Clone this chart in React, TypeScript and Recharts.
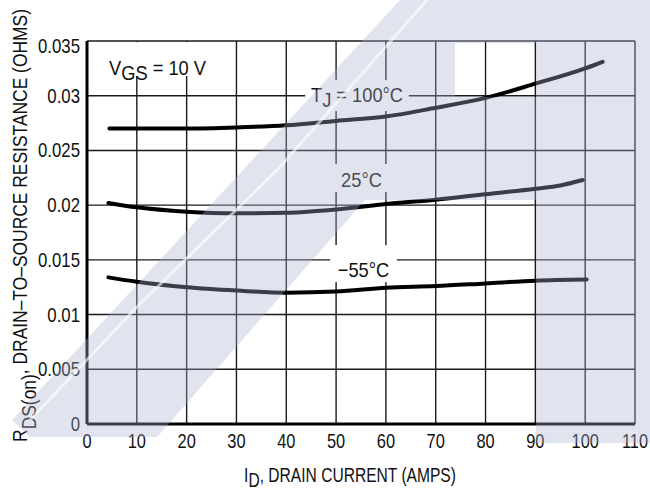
import React from "react"
import {
  CartesianGrid,
  Line,
  LineChart,
  ReferenceArea,
  XAxis,
  YAxis,
} from "recharts"

// drain current (A) and on-resistance (ohms)
const current100 = [4.5, 10, 20, 30, 40, 50, 60, 70, 80, 90, 100, 103.5]
const rds100 = [0.027, 0.027, 0.027, 0.0271, 0.0273, 0.0277, 0.0281, 0.0289, 0.0298, 0.0311, 0.0325, 0.0331]

const current25 = [4.3, 10, 20, 30, 40, 50, 60, 70, 80, 90, 95, 99.5]
const rds25 = [0.0202, 0.0198, 0.0194, 0.01925, 0.0193, 0.0196, 0.0201, 0.0205, 0.021, 0.0215, 0.0218, 0.0223]

const currentMinus55 = [4.3, 10, 20, 30, 40, 50, 60, 70, 80, 90, 100.3]
const rdsMinus55 = [0.0134, 0.013, 0.0125, 0.0122, 0.012, 0.0121, 0.01245, 0.0126, 0.01285, 0.0131, 0.0132]

const xTicks = [0, 10, 20, 30, 40, 50, 60, 70, 80, 90, 100, 110]
const yTicks = [0, 0.005, 0.01, 0.015, 0.02, 0.025, 0.03, 0.035]
const yTickLabels = ["0", "0.005", "0.01", "0.015", "0.02", "0.025", "0.03", "0.035"]

const toRows = (xs: number[], ys: number[]) => xs.map((x, i) => ({ x, r: ys[i] }))

const series = [
  { name: "100", rows: toRows(current100, rds100) },
  { name: "25", rows: toRows(current25, rds25) },
  { name: "-55", rows: toRows(currentMinus55, rdsMinus55) },
]

// curve labels with white boxes (data coords)
const notes = [
  { x1: 2.6, x2: 25.7, y1: 0.0318, y2: 0.0349, main: "V", sub: "GS", rest: " = 10 V", lift: 1 },
  { x1: 43.8, x2: 64.6, y1: 0.0286, y2: 0.03143, main: "T", sub: "J", rest: " = 100°C", lift: 9 },
  { x1: 49.6, x2: 60.6, y1: 0.0212, y2: 0.02376, main: "25°C", sub: "", rest: "", lift: 5 },
  { x1: 48.8, x2: 62.2, y1: 0.01297, y2: 0.01635, main: "−55°C", sub: "", rest: "", lift: 5 },
]

const FONT = "'Liberation Sans', Arial, sans-serif"

// the scan uses a condensed Helvetica; squeeze the text horizontally
const Squeezed = ({ x, y, sx, size, anchor, rotate, children }: any) => (
  <text
    transform={`translate(${x} ${y})${rotate ? " rotate(-90)" : ""} scale(${sx} 1)`}
    x={0}
    y={0}
    textAnchor={anchor}
    fontSize={size}
    fontFamily={FONT}
    fill="#111"
  >
    {children}
  </text>
)

const XTick = (props: any) => {
  const { x, y, payload } = props
  return (
    <Squeezed x={x} y={y + 24} sx={0.82} size={20} anchor="middle">
      {payload.value}
    </Squeezed>
  )
}

const YTick = (props: any) => {
  const { x, y, payload } = props
  const i = yTicks.indexOf(payload.value)
  const dy = payload.value === 0.035 ? 12 : 7
  return (
    <Squeezed x={x - 7} y={y + dy} sx={0.84} size={20} anchor="end">
      {yTickLabels[i]}
    </Squeezed>
  )
}

const NoteBox = (note: (typeof notes)[number]) => (props: any) => {
  const { x, y, width, height } = props
  return (
    <g>
      <rect x={x} y={y} width={width} height={height} fill="#fff" />
      <Squeezed x={x + width / 2} y={y + height - note.lift} sx={0.87} size={21} anchor="middle">
        {note.main}
        {note.sub && <tspan dy={5}>{note.sub}</tspan>}
        {note.rest && <tspan dy={note.sub ? -5 : 0}>{note.rest}</tspan>}
      </Squeezed>
    </g>
  )
}

const XTitle = (props: any) => {
  const { x, y, width } = props.viewBox
  return (
    <Squeezed x={x + width / 2 - 11} y={y + 58} sx={0.8} size={19.5} anchor="middle">
      I<tspan dy={5}>D</tspan>
      <tspan dy={-5}>, DRAIN CURRENT (AMPS)</tspan>
    </Squeezed>
  )
}

const YTitle = (props: any) => {
  const { y, height } = props.viewBox
  return (
    <Squeezed x={27} y={y + height / 2 - 7} sx={0.83} size={21} anchor="middle" rotate>
      R<tspan dy={9}>DS(on)</tspan>
      <tspan dy={-9}>, DRAIN–TO–SOURCE RESISTANCE (OHMS)</tspan>
    </Squeezed>
  )
}

// grey-blue watermark that sits over the scanned figure
const Watermark = () => (
  <svg
    width={650}
    height={491}
    style={{ position: "absolute", left: 0, top: 0, pointerEvents: "none" }}
  >
    <path
      fillRule="evenodd"
      fill="rgb(170,178,205)"
      fillOpacity={0.35}
      d="M400,0 L650,0 L650,443 L536,443 L536,200 L365,200 L157,437 L30,437 L12,420 Z M455,43 L536,43 L536,97 L455,97 Z"
    />
    {/* faint highlight streak inside the band */}
    <path
      d="M427,0 L280,167 L137,307 L30,420"
      fill="none"
      stroke="#fff"
      strokeWidth={3}
      strokeOpacity={0.6}
    />
  </svg>
)

export default function App() {
  return (
    <div style={{ position: "absolute", left: 0, top: 0, width: 650, height: 491, background: "#fff" }}>
      <LineChart width={650} height={491} margin={{ top: 41, right: 15, bottom: 0, left: 0 }}>
        <CartesianGrid stroke="#1a1a1a" strokeWidth={1.4} />
        <XAxis
          type="number"
          dataKey="x"
          domain={[0, 110]}
          ticks={xTicks}
          interval={0}
          height={67}
          tickLine={false}
          tickSize={0}
          tickMargin={0}
          axisLine={{ stroke: "#000", strokeWidth: 3 }}
          tick={<XTick />}
          label={<XTitle />}
        />
        <YAxis
          type="number"
          domain={[0, 0.035]}
          ticks={yTicks}
          interval={0}
          width={87}
          tickLine={false}
          tickSize={0}
          tickMargin={0}
          axisLine={{ stroke: "#000", strokeWidth: 3 }}
          tick={<YTick />}
          label={<YTitle />}
        />
        {notes.map((n, i) => (
          <ReferenceArea
            key={i}
            x1={n.x1}
            x2={n.x2}
            y1={n.y1}
            y2={n.y2}
            shape={NoteBox(n)}
            ifOverflow="visible"
          />
        ))}
        {series.map((s) => (
          <Line
            key={s.name}
            data={s.rows}
            dataKey="r"
            type="monotone"
            stroke="#000"
            strokeWidth={4}
            strokeLinecap="round"
            dot={false}
            activeDot={false}
            isAnimationActive={false}
          />
        ))}
      </LineChart>
      <Watermark />
    </div>
  )
}
